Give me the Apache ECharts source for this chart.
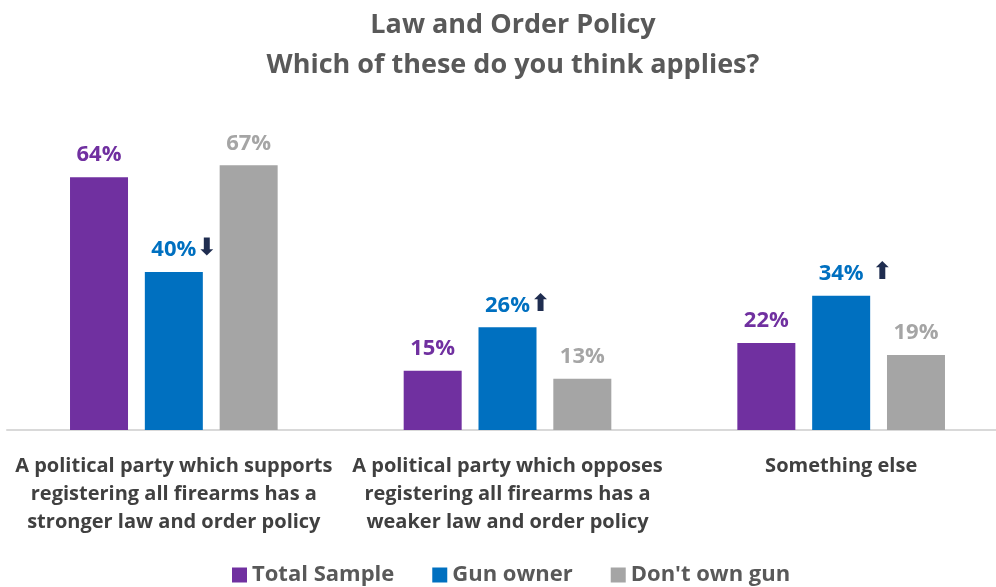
<!DOCTYPE html>
<html><head><meta charset="utf-8">
<script src="https://cdn.jsdelivr.net/npm/echarts@6/dist/echarts.min.js"></script>
<style>html,body{margin:0;padding:0;background:#fff}#c{width:996px;height:587px}</style>
</head><body><div id="c"></div>
<script>
const categories = [
  "A political party which supports\nregistering all firearms has a\nstronger law and order policy",
  "A political party which opposes\nregistering all firearms has a\nweaker law and order policy",
  "Something else"
];
const seriesNames = ["Total Sample", "Gun owner", "Don't own gun"];
const totalSample = [64, 15, 22];
const gunOwner = [40, 26, 34];
const dontOwnGun = [67, 13, 19];
const gunOwnerArrows = ["⬇", "⬆", " ⬆"];
const colors = ["#7030A0", "#0070C0", "#A5A5A5"];
const FONT = "Open Sans";
const ARROW_FONT = "bold 24px 'DejaVu Sans'";

const ctx = document.createElement('canvas').getContext('2d');
ctx.font = ARROW_FONT;
const chart = echarts.init(document.getElementById('c'));

function labelFor(color, size, arrows) {
  const rich = {
    v: {color: color, fontSize: size, fontWeight: 'bold', fontFamily: FONT, lineHeight: 28, verticalAlign: 'bottom'}
  };
  if (arrows) {
    arrows.forEach((a, i) => {
      const w = Math.ceil(ctx.measureText(a).width);
      rich['p' + i] = {width: w, lineHeight: 28};
      rich['a' + i] = {width: w, align: 'left', color: '#1F2D50', fontSize: 24, fontWeight: 'bold', fontFamily: 'DejaVu Sans', lineHeight: 28, verticalAlign: 'bottom'};
    });
  }
  return {
    show: true, position: 'top', distance: 11,
    formatter: p => arrows ? `{p${p.dataIndex}|}{v|${p.value}%}{a${p.dataIndex}|${arrows[p.dataIndex]}}` : `{v|${p.value}%}`,
    rich: rich
  };
}
chart.setOption({
  animation: false,
  title: {
    text: "Law and Order Policy\nWhich of these do you think applies?",
    left: 508, top: 0, textAlign: 'center',
    textStyle: {fontFamily: FONT, fontWeight: 'bold', fontSize: 27, color: '#595959', lineHeight: 40}
  },
  legend: {
    bottom: -4, left: 227, itemWidth: 15, itemHeight: 15, itemGap: 38,
    icon: 'rect',
    textStyle: {fontFamily: FONT, fontWeight: 'bold', fontSize: 22, color: '#595959'},
    data: seriesNames
  },
  grid: {left: 7, right: -12, top: 35, bottom: 157, outerBoundsMode: 'none', containLabel: false},
  xAxis: {
    type: 'category', data: categories,
    axisLine: {lineStyle: {color: '#D9D9D9', width: 2}},
    axisTick: {show: false},
    axisLabel: {interval: 0, margin: 22, fontFamily: FONT, fontWeight: 'bold', fontSize: 20, color: '#404040', lineHeight: 28, align: 'center'}
  },
  yAxis: {type: 'value', min: 0, max: 100, show: false, splitLine: {show: false}},
  series: [
    {name: seriesNames[0], type: 'bar', data: totalSample, barWidth: 58, barGap: '29%', itemStyle: {color: colors[0]}, label: labelFor(colors[0], 22)},
    {name: seriesNames[1], type: 'bar', data: gunOwner, barWidth: 58, barGap: '29%', itemStyle: {color: colors[1]}, label: labelFor(colors[1], 22, gunOwnerArrows)},
    {name: seriesNames[2], type: 'bar', data: dontOwnGun, barWidth: 58, barGap: '29%', itemStyle: {color: colors[2]}, label: labelFor(colors[2], 22)}
  ]
});
</script></body></html>
